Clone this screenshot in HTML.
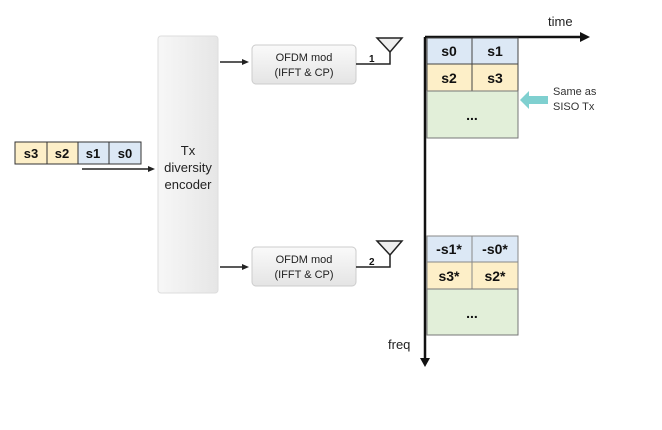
<!DOCTYPE html>
<html><head><style>
body{margin:0;background:#fff;}
svg text{font-family:"Liberation Sans",sans-serif;}
</style></head><body>
<svg width="662" height="425" viewBox="0 0 662 425" xmlns="http://www.w3.org/2000/svg">
<defs>
<linearGradient id="g" x1="0" y1="0" x2="1" y2="0">
<stop offset="0" stop-color="#f7f7f7"/><stop offset="1" stop-color="#e6e6e6"/></linearGradient>
<linearGradient id="g2" x1="0" y1="0" x2="0" y2="1">
<stop offset="0" stop-color="#fafafa"/><stop offset="1" stop-color="#e4e4e4"/></linearGradient>
</defs>
<!-- input cells -->
<g stroke="#333" stroke-width="1">
<rect x="15" y="142" width="32" height="22" fill="#fdefc8"/>
<rect x="47" y="142" width="31" height="22" fill="#fdefc8"/>
<rect x="78" y="142" width="31" height="22" fill="#dce8f5"/>
<rect x="109" y="142" width="32" height="22" fill="#dce8f5"/>
</g>
<g font-size="13" font-weight="bold" fill="#111" text-anchor="middle">
<text x="31" y="158">s3</text><text x="62" y="158">s2</text><text x="93" y="158">s1</text><text x="125" y="158">s0</text>
</g>
<line x1="82" y1="169" x2="150" y2="169" stroke="#222" stroke-width="1.5"/>
<polygon points="155,169 148,166 148,172" fill="#222"/>
<!-- encoder -->
<rect x="158" y="36" width="60" height="257" rx="3" fill="url(#g)" stroke="#ddd"/>
<g font-size="13" fill="#222" text-anchor="middle">
<text x="188" y="155">Tx</text><text x="188" y="172">diversity</text><text x="188" y="189">encoder</text>
</g>
<!-- OFDM boxes -->
<rect x="252" y="45" width="104" height="39" rx="4" fill="url(#g2)" stroke="#ccc"/>
<rect x="252" y="247" width="104" height="39" rx="4" fill="url(#g2)" stroke="#ccc"/>
<g font-size="11" fill="#222" text-anchor="middle">
<text x="304" y="61">OFDM mod</text><text x="304" y="76">(IFFT &amp; CP)</text>
<text x="304" y="263">OFDM mod</text><text x="304" y="278">(IFFT &amp; CP)</text>
</g>
<g stroke="#222" stroke-width="1.5">
<line x1="220" y1="62" x2="243" y2="62"/><line x1="220" y1="267" x2="243" y2="267"/>
</g>
<polygon points="249,62 242,59 242,65" fill="#222"/>
<polygon points="249,267 242,264 242,270" fill="#222"/>
<!-- antennas -->
<g stroke="#222" stroke-width="1.5" fill="#eee">
<polyline points="356,64 390,64 390,50" fill="none"/>
<polygon points="377,38 402,38 390,52"/>
<polyline points="356,267 390,267 390,253" fill="none"/>
<polygon points="377,241 402,241 390,255"/>
</g>
<g font-size="10" font-weight="bold" fill="#111"><text x="369" y="62">1</text><text x="369" y="265">2</text></g>
<!-- axes -->
<line x1="425" y1="37" x2="425" y2="360" stroke="#111" stroke-width="2.5"/>
<polygon points="425,367 420,358 430,358" fill="#111"/>
<line x1="425" y1="37" x2="582" y2="37" stroke="#111" stroke-width="2.5"/>
<polygon points="590,37 580,32 580,42" fill="#111"/>
<text x="548" y="26" font-size="13" fill="#222">time</text>
<text x="388" y="349" font-size="13" fill="#222">freq</text>
<!-- grids -->
<g stroke="#444" stroke-width="1">
<rect x="427" y="38" width="45" height="26" fill="#dce8f5"/>
<rect x="472" y="38" width="46" height="26" fill="#dce8f5"/>
<rect x="427" y="64" width="45" height="27" fill="#fdefc8"/>
<rect x="472" y="64" width="46" height="27" fill="#fdefc8"/>
<rect x="427" y="91" width="91" height="47" fill="#e2efd9" stroke="#777"/>
<rect x="427" y="236" width="45" height="26" fill="#dce8f5" stroke="#888"/>
<rect x="472" y="236" width="46" height="26" fill="#dce8f5" stroke="#888"/>
<rect x="427" y="262" width="45" height="27" fill="#fdefc8" stroke="#888"/>
<rect x="472" y="262" width="46" height="27" fill="#fdefc8" stroke="#888"/>
<rect x="427" y="289" width="91" height="46" fill="#e2efd9" stroke="#777"/>
</g>
<g font-size="14" font-weight="bold" fill="#111" text-anchor="middle">
<text x="449" y="56">s0</text><text x="495" y="56">s1</text>
<text x="449" y="83">s2</text><text x="495" y="83">s3</text>
<text x="472" y="120">...</text>
<text x="449" y="254">-s1*</text><text x="495" y="254">-s0*</text>
<text x="449" y="281">s3*</text><text x="495" y="281">s2*</text>
<text x="472" y="318">...</text>
</g>
<!-- cyan arrow -->
<polygon points="520,100 529,91 529,96 548,96 548,104 529,104 529,109" fill="#7fd0d0"/>
<g font-size="11" fill="#333"><text x="553" y="95">Same as</text><text x="553" y="110">SISO Tx</text></g>
</svg>
</body></html>
